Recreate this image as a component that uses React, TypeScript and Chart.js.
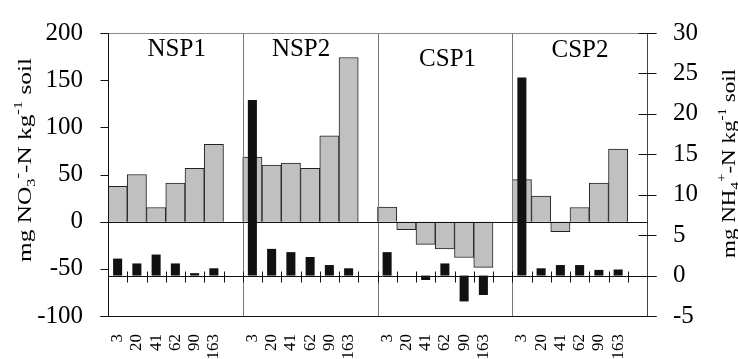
import React, { useEffect, useRef } from "react";
import { Chart, registerables } from "chart.js";

Chart.register(...registerables);

// ---- data ----
const panels = ["NSP1", "NSP2", "CSP1", "CSP2"];
const depths = ["3", "20", "41", "62", "90", "163"];

const no3NSP1 = [37.5, 50, 15, 41, 56.5, 82];
const no3NSP2 = [68.5, 60, 62, 56.5, 91, 174];
const no3CSP1 = [15.5, -8.5, -24, -29, -38, -48.5];
const no3CSP2 = [44.5, 27, -10.5, 15, 41, 77];

const nh4NSP1 = [2.1, 1.5, 2.6, 1.5, 0.3, 0.9];
const nh4NSP2 = [21.7, 3.3, 2.9, 2.3, 1.3, 0.9];
const nh4CSP1 = [2.9, 0, -0.55, 1.5, -3.2, -2.4];
const nh4CSP2 = [24.5, 0.9, 1.3, 1.3, 0.7, 0.75];

const no3Min = -100;
const no3Max = 200;
const no3Step = 50;
const nh4Min = -5;
const nh4Max = 30;
const nh4Step = 5;

// panel title anchors (category units, NO3 units)
const titleAnchorX = [3.07, 9.53, 17.14, 24.02];
const titleAnchorY = [176, 175.5, 165, 175];

// ---- build chart tables ----
const no3Series = [no3NSP1, no3NSP2, no3CSP1, no3CSP2];
const nh4Series = [nh4NSP1, nh4NSP2, nh4CSP1, nh4CSP2];
const labels: string[] = [];
const no3Data: (number | null)[] = [];
const nh4Data: (number | null)[] = [];
panels.forEach((_, p) => {
  depths.forEach((d, i) => {
    labels.push(d);
    no3Data.push(no3Series[p][i]);
    nh4Data.push(nh4Series[p][i]);
  });
  labels.push("");
  no3Data.push(null);
  nh4Data.push(null);
});
const slotsPerPanel = depths.length + 1;
const nCats = labels.length;

const FONT = "'Liberation Serif', 'Times New Roman', serif";

type Seg = { t: string; s: number; dy: number };
const leftTitle: Seg[] = [
  { t: "mg NO", s: 1, dy: 0 },
  { t: "3", s: 0.65, dy: 0.2 },
  { t: "-", s: 0.65, dy: -0.45 },
  { t: "-N kg", s: 1, dy: 0 },
  { t: "-1", s: 0.65, dy: -0.45 },
  { t: " soil", s: 1, dy: 0 },
];
const rightTitle: Seg[] = [
  { t: "mg NH", s: 1, dy: 0 },
  { t: "4", s: 0.65, dy: 0.2 },
  { t: "+", s: 0.65, dy: -0.5 },
  { t: "-N kg", s: 1, dy: 0 },
  { t: "-1", s: 0.65, dy: -0.45 },
  { t: " soil", s: 1, dy: 0 },
];

function drawRotated(ctx: CanvasRenderingContext2D, segs: Seg[], cx: number, cy: number, size: number, len: number) {
  ctx.save();
  ctx.translate(cx, cy);
  ctx.rotate(-Math.PI / 2);
  let total = 0;
  const widths: number[] = [];
  for (const s of segs) {
    ctx.font = `${size * s.s}px ${FONT}`;
    const w = ctx.measureText(s.t).width;
    widths.push(w);
    total += w;
  }
  ctx.scale(len / total, 1);
  ctx.fillStyle = "#000";
  ctx.textAlign = "left";
  ctx.textBaseline = "alphabetic";
  let xx = -total / 2;
  segs.forEach((s, i) => {
    ctx.font = `${size * s.s}px ${FONT}`;
    ctx.fillText(s.t, xx, s.dy * size);
    xx += widths[i];
  });
  ctx.restore();
}

const overlay = {
  id: "overlay",
  afterDatasetsDraw(chart: any) {
    const { ctx, chartArea: a, scales } = chart;
    const xs = scales.x;
    const ys = scales.y;
    const y1 = scales.y1;
    const step = (a.right - a.left) / nCats;
    const bx = (k: number) => Math.round(a.left + k * step) + 0.5;
    const r = (v: number) => Math.round(v) + 0.5;
    ctx.save();
    ctx.lineWidth = 1;
    const line = (x0: number, y0: number, x1: number, yy1: number, c: string) => {
      ctx.strokeStyle = c;
      ctx.beginPath();
      ctx.moveTo(x0, y0);
      ctx.lineTo(x1, yy1);
      ctx.stroke();
    };
    const L = r(a.left);
    const R = r(a.right);
    const T = r(a.top);
    const B = r(a.bottom);
    // separators
    for (let k = slotsPerPanel; k < nCats; k += slotsPerPanel) {
      line(bx(k), T, bx(k), B, "#777");
    }
    // borders
    line(L - 8, T, R + 9, T, "#8a8a8a");
    line(L - 8, B, R + 9, B, "#111");
    line(L, T, L, B, "#111");
    line(R, T, R, B, "#444");
    // zero lines
    const z0 = r(ys.getPixelForValue(0));
    line(L - 8, z0, R, z0, "#111");
    const z1 = r(y1.getPixelForValue(0));
    line(L, z1, R + 9, z1, "#111");
    // left ticks
    for (let v = no3Min; v <= no3Max; v += no3Step) {
      const p = r(ys.getPixelForValue(v));
      line(L - 8, p, L, p, "#111");
    }
    // right ticks (cross)
    for (let v = nh4Min; v <= nh4Max; v += nh4Step) {
      const p = r(y1.getPixelForValue(v));
      line(R - 9, p, R + 9, p, "#111");
    }
    // category ticks on NH4 zero line
    for (let k = 1; k < nCats; k++) {
      line(bx(k), z1 - 5, bx(k), z1 + 6, "#111");
    }
    // panel titles
    ctx.fillStyle = "#000";
    ctx.font = `25px ${FONT}`;
    ctx.textAlign = "center";
    ctx.textBaseline = "alphabetic";
    panels.forEach((t, i) => {
      ctx.fillText(t, xs.getPixelForValue(titleAnchorX[i]), ys.getPixelForValue(titleAnchorY[i]));
    });
    // axis titles
    drawRotated(ctx, leftTitle, 31, 160, 19, 204);
    drawRotated(ctx, rightTitle, 735, 163.5, 19, 189);
    ctx.restore();
  },
};

export default function App() {
  const ref = useRef<HTMLCanvasElement>(null);
  useEffect(() => {
    const canvas = ref.current!;
    const chart = new Chart(canvas, {
      type: "bar",
      data: {
        labels,
        datasets: [
          {
            label: "NH4",
            data: nh4Data,
            yAxisID: "y1",
            backgroundColor: "#111111",
            borderWidth: 0,
            barPercentage: 0.47,
            categoryPercentage: 1,
            grouped: false,
            order: 1,
          },
          {
            label: "NO3",
            data: no3Data,
            yAxisID: "y",
            backgroundColor: "#c0c0c0",
            borderColor: "#222222",
            borderWidth: 1,
            barPercentage: 1,
            categoryPercentage: 1,
            grouped: false,
            order: 2,
          },
        ],
      } as any,
      options: {
        responsive: false,
        animation: false,
        layout: { padding: { top: 17, left: 0, right: 0, bottom: 0 } },
        plugins: { legend: { display: false }, tooltip: { enabled: false } },
        scales: {
          x: {
            grid: { display: false },
            border: { display: false },
            ticks: {
              autoSkip: false,
              minRotation: 90,
              maxRotation: 90,
              padding: 10,
              color: "#000",
              font: { family: FONT, size: 17 },
            },
            afterFit: (s: any) => {
              s.height = 43;
            },
          },
          y: {
            position: "left",
            min: no3Min,
            max: no3Max,
            grid: { display: false },
            border: { display: false },
            ticks: { stepSize: no3Step, padding: 17, color: "#000", font: { family: FONT, size: 25 } },
            afterFit: (s: any) => {
              s.width = 108;
            },
          },
          y1: {
            position: "right",
            min: nh4Min,
            max: nh4Max,
            grid: { display: false },
            border: { display: false },
            ticks: { stepSize: nh4Step, padding: 18, color: "#000", font: { family: FONT, size: 25 } },
            afterFit: (s: any) => {
              s.width = 91;
            },
          },
        },
      } as any,
      plugins: [overlay],
    });
    return () => chart.destroy();
  }, []);
  return (
    <div style={{ position: "absolute", left: 0, top: 0, width: 738, height: 359 }}>
      <canvas ref={ref} width={738} height={359} style={{ display: "block" }} />
    </div>
  );
}
